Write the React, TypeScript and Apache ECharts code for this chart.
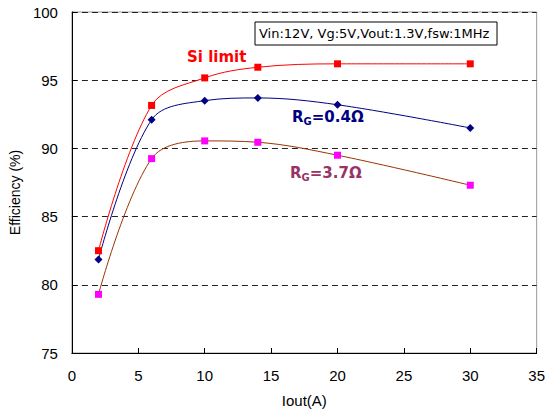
import React, { useEffect, useRef } from "react";
import * as echarts from "echarts";

const currents = [2, 6, 10, 14, 20, 30];
const siLimit = [82.5, 93.15, 95.17, 95.95, 96.2, 96.2];
const rg04 = [81.85, 92.1, 93.5, 93.7, 93.2, 91.5];
const rg37 = [79.3, 89.25, 90.55, 90.45, 89.5, 87.3];
const xTicks = [0, 5, 10, 15, 20, 25, 30, 35];
const yTicks = [75, 80, 85, 90, 95, 100];

const FONT = "Liberation Sans";

export default function App() {
  const ref = useRef<HTMLDivElement>(null);
  useEffect(() => {
    if (!ref.current) return;
    const chart = echarts.init(ref.current, undefined, { renderer: "svg" });
    const pairs = (ys: number[]) => currents.map((x, i) => [x, ys[i]]);
    chart.setOption({
      animation: false,
      backgroundColor: "#ffffff",
      grid: {
        left: 68,
        right: 6,
        top: 12,
        bottom: 61,
        show: true,
        borderColor: "#999999",
        borderWidth: 1,
        backgroundColor: "transparent",
      },
      xAxis: {
        type: "value",
        min: xTicks[0],
        max: xTicks[xTicks.length - 1],
        interval: 5,
        name: "Iout(A)",
        nameLocation: "middle",
        nameGap: 40,
        nameTextStyle: { fontFamily: FONT, fontSize: 15, color: "#000" },
        axisLine: { show: true, lineStyle: { color: "#000", width: 1 } },
        axisTick: { show: true, inside: true, length: 5, lineStyle: { color: "#000" } },
        axisLabel: { fontFamily: FONT, fontSize: 15, color: "#000", margin: 15 },
        splitLine: { show: false },
      },
      yAxis: {
        type: "value",
        min: yTicks[0],
        max: yTicks[yTicks.length - 1],
        interval: 5,
        name: "Efficiency (%)",
        nameLocation: "middle",
        nameGap: 43,
        nameTextStyle: { fontFamily: FONT, fontSize: 14, color: "#000", padding: [0, 20, 0, 0] },
        axisLine: { show: true, lineStyle: { color: "#000", width: 1 } },
        axisTick: { show: true, inside: true, length: 5, lineStyle: { color: "#000" } },
        axisLabel: { fontFamily: FONT, fontSize: 15, color: "#000", margin: 14 },
        splitLine: { show: true, lineStyle: { color: "#222222", type: [6, 4], width: 1 } },
      },
      series: [
        {
          name: "Si limit",
          type: "line",
          data: pairs(siLimit),
          smooth: 0.35,
          symbol: "rect",
          symbolSize: 7,
          lineStyle: { color: "#ff0000", width: 1 },
          itemStyle: { color: "#ff0000" },
        },
        {
          name: "RG=0.4Ω",
          type: "line",
          data: pairs(rg04),
          smooth: 0.35,
          symbol: "diamond",
          symbolSize: 8,
          lineStyle: { color: "#000080", width: 1 },
          itemStyle: { color: "#000080" },
        },
        {
          name: "RG=3.7Ω",
          type: "line",
          data: pairs(rg37),
          smooth: 0.35,
          symbol: "rect",
          symbolSize: 7,
          lineStyle: { color: "#993300", width: 1 },
          itemStyle: { color: "#ff00ff" },
        },
      ],
      graphic: [
        {
          type: "rect",
          shape: { x: 255, y: 22, width: 242, height: 23 },
          style: { fill: "#ffffff", stroke: "#000000", lineWidth: 1 },
          z: 10,
        },
        {
          type: "text",
          x: 259,
          y: 33.5,
          style: {
            text: "Vin:12V, Vg:5V,Vout:1.3V,fsw:1MHz",
            fontFamily: "DejaVu Sans",
            fontSize: 13,
            fill: "#000",
            verticalAlign: "middle",
          },
          z: 11,
        },
        {
          type: "text",
          x: 187,
          y: 57,
          style: {
            text: "Si limit",
            fontFamily: "DejaVu Sans",
            fontWeight: "bold",
            fontSize: 15,
            fill: "#ff0000",
            verticalAlign: "middle",
          },
          z: 11,
        },
        {
          type: "text",
          x: 292,
          y: 117,
          style: {
            text: "{m|R}{s|G}{m|=0.4Ω}",
            verticalAlign: "middle",
            rich: {
              m: { fontFamily: "DejaVu Sans", fontWeight: "bold", fontSize: 15, fill: "#000080", color: "#000080" },
              s: { fontFamily: "DejaVu Sans", fontWeight: "bold", fontSize: 10, fill: "#000080", color: "#000080", padding: [8, 0, 0, 0] },
            },
          },
          z: 11,
        },
        {
          type: "text",
          x: 290,
          y: 173,
          style: {
            text: "{m|R}{s|G}{m|=3.7Ω}",
            verticalAlign: "middle",
            rich: {
              m: { fontFamily: "DejaVu Sans", fontWeight: "bold", fontSize: 15, fill: "#993366", color: "#993366" },
              s: { fontFamily: "DejaVu Sans", fontWeight: "bold", fontSize: 10, fill: "#993366", color: "#993366", padding: [8, 0, 0, 0] },
            },
          },
          z: 11,
        },
      ],
    });
    return () => chart.dispose();
  }, []);
  return (
    <div
      ref={ref}
      style={{ position: "fixed", left: 0, top: 0, width: 548, height: 414, background: "#fff" }}
    />
  );
}
